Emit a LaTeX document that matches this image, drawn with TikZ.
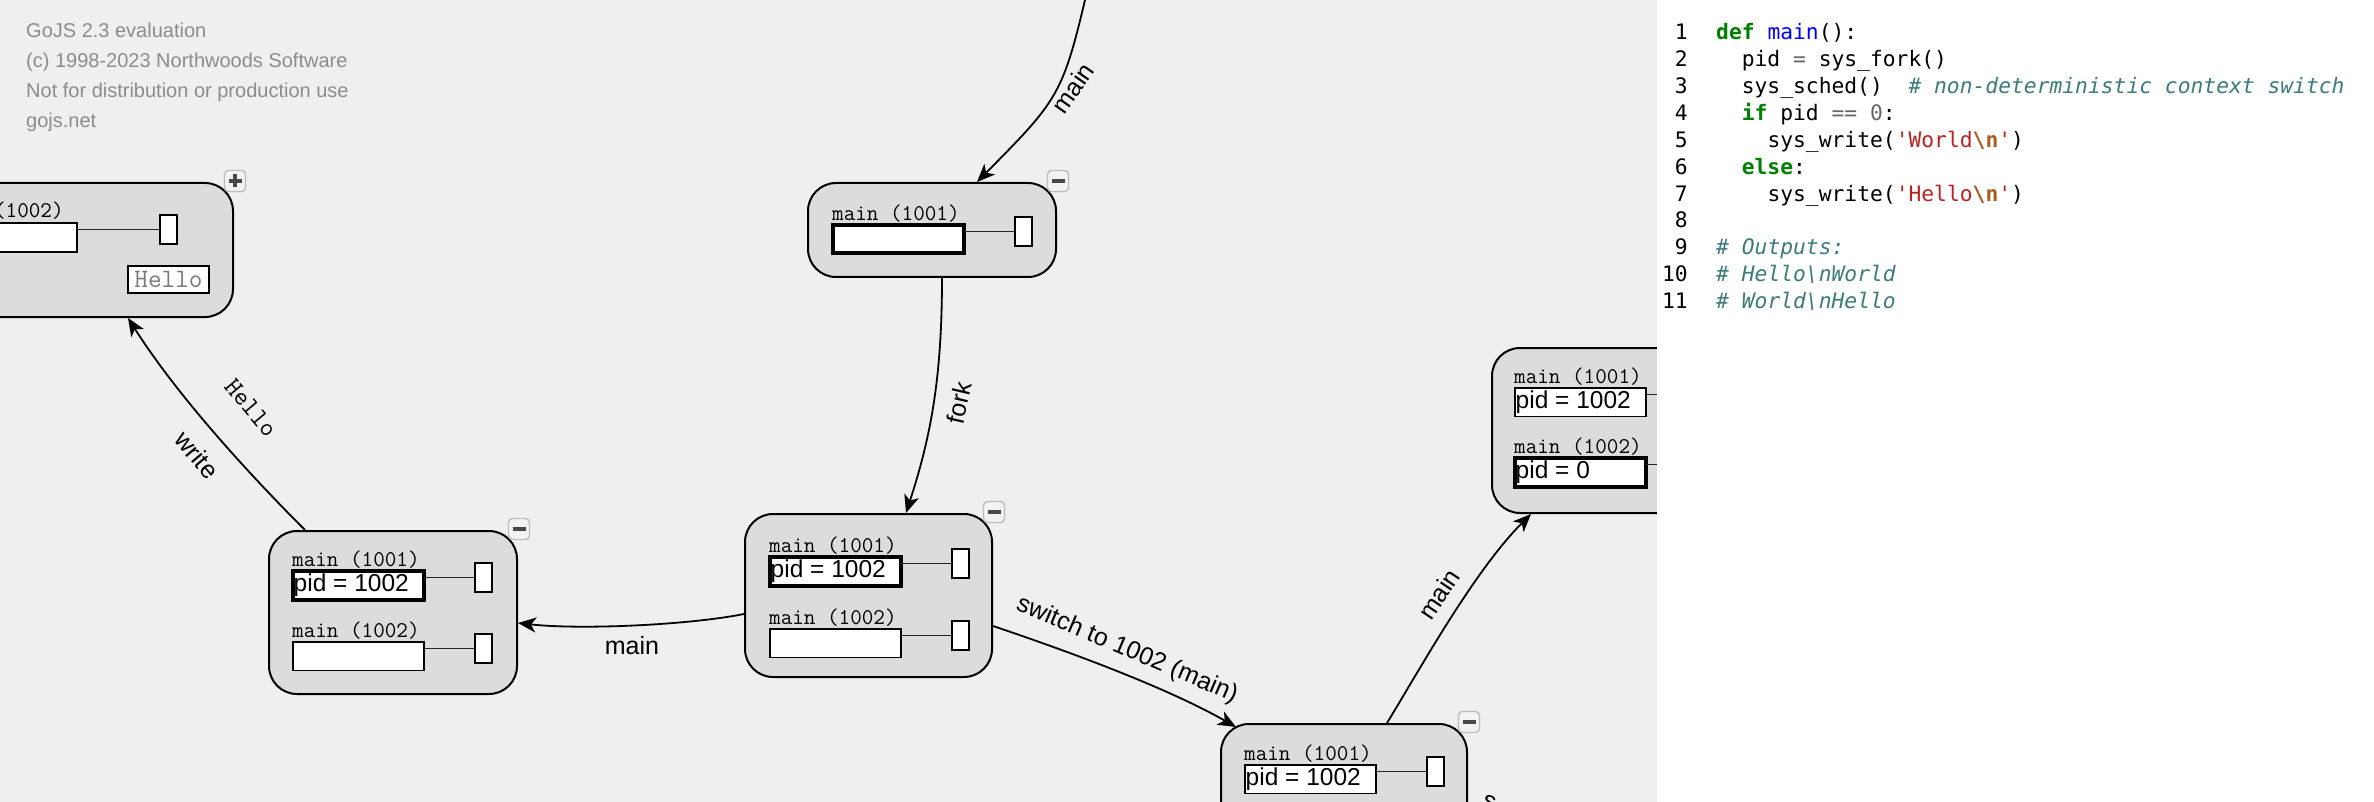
\documentclass[tikz,border=0pt]{standalone}
\usepackage{fontspec}
\newfontfamily\codefont{DejaVu Sans Mono}
\newfontfamily\lsans{Liberation Sans}
\usetikzlibrary{arrows.meta,calc}
\definecolor{diagbg}{HTML}{EFEFEF}
\definecolor{boxfill}{HTML}{DCDCDC}
\definecolor{btnedge}{HTML}{BDBDBD}
\definecolor{btnfill}{HTML}{F3F3F3}
\definecolor{signgray}{HTML}{484848}
\definecolor{wmgray}{HTML}{8C8C8C}
\definecolor{kwgreen}{HTML}{008000}
\definecolor{fnblue}{HTML}{0000FF}
\definecolor{strred}{HTML}{BA2121}
\definecolor{escbrown}{HTML}{AA5D1F}
\definecolor{comteal}{HTML}{3D7B7B}
\definecolor{numgray}{HTML}{666666}
\definecolor{hellogray}{HTML}{7A7A7A}
\newcommand\ckw[1]{\textcolor{kwgreen}{\bfseries #1}}
\newcommand\cfn[1]{\textcolor{fnblue}{#1}}
\newcommand\cstr[1]{\textcolor{strred}{#1}}
\newcommand\cesc[1]{\textcolor{escbrown}{\bfseries #1}}
\newcommand\ccom[1]{\textcolor{comteal}{\itshape #1}}
\newcommand\cnum[1]{\textcolor{numgray}{#1}}
% name, x, y (field top-left), label, content, field style
\newcommand\prow[6]{%
  \node[rowlabel] (#1l) at (#2-1,#3-4.5) {#4};
  \fill[white] (#2,#3) rectangle ++(131,28.5);
  \node[fieldtext] (#1t) at (#2+0.5,#3+20.5) {#5};
  \draw[#6] (#2,#3) rectangle ++(131,28.5);
  \draw[stubline] (#2+131,#3+6.5) -- (#2+182,#3+6.5);
  \draw[stubbox] (#2+182,#3-8) rectangle ++(17,29);
}
\begin{document}
\begin{tikzpicture}[x=1pt,y=-1pt,
  procbox/.style={draw=black, line width=2pt, fill=boxfill, rounded corners=28pt, inner sep=0pt},
  rowlabel/.style={anchor=base west, inner sep=0pt, font=\ttfamily\fontsize{22.5}{26}\selectfont},
  fieldtext/.style={anchor=base west, inner sep=0pt, font=\lsans\fontsize{24.5}{28}\selectfont},
  thickfield/.style={draw=black, line width=4pt},
  thinfield/.style={draw=black, line width=1.5pt},
  stubline/.style={draw=black!85, line width=1.5pt},
  stubbox/.style={draw=black, fill=white, line width=1.5pt},
  btn/.style={draw=btnedge, line width=1.4pt, fill=btnfill, rounded corners=4pt, minimum size=21pt, inner sep=0pt},
  minusbtn/.style={btn, path picture={\draw[line width=3.5pt, signgray] ($(path picture bounding box.center)+(-6.5,0)$) -- ++(13,0);}},
  plusbtn/.style={btn, path picture={\draw[line width=3.5pt, signgray] ($(path picture bounding box.center)+(-6.5,0)$) -- ++(13,0) ($(path picture bounding box.center)+(0,-6.5)$) -- ++(0,13);}},
  edge/.style={draw=black, line width=1.8pt, -{Stealth[length=18pt,width=15pt,inset=5pt]}},
  elabel/.style={inner sep=0pt, font=\lsans\fontsize{25}{30}\selectfont},
  mlabel/.style={inner sep=0pt, font=\ttfamily\fontsize{26}{30}\selectfont},
  wmark/.style={anchor=base west, inner sep=0pt, text=wmgray, font=\lsans\fontsize{20}{24}\selectfont},
  codeline/.style={anchor=base west, inner sep=0pt, font=\codefont\fontsize{21.3}{26}\selectfont},
  lnum/.style={anchor=base east, inner sep=0pt, font=\codefont\fontsize{21.3}{26}\selectfont}
]
\useasboundingbox (0,0) rectangle (2374,802);
\fill[diagbg] (0,0) rectangle (1657,802);
\begin{scope}
\clip (0,0) rectangle (1657,802);
% watermark
\node[wmark] (wm1) at (26,38) {GoJS 2.3 evaluation};
\node[wmark] (wm2) at (26,68) {(c) 1998-2023 Northwoods Software};
\node[wmark] (wm3) at (26,98) {Not for distribution or production use};
\node[wmark] (wm4) at (26,128) {gojs.net};
% boxes
\node[procbox, minimum width=343pt, minimum height=134pt] (TL) at (61.5,250) {};
\node[procbox, minimum width=248pt, minimum height=94pt] (A) at (932,230) {};
\node[procbox, minimum width=247pt, minimum height=163pt] (B) at (868.5,595.5) {};
\node[procbox, minimum width=248pt, minimum height=163pt] (C) at (393,612.5) {};
\node[procbox, minimum width=246pt, minimum height=163pt] (D) at (1344,805.5) {};
\node[procbox, minimum width=248pt, minimum height=165pt] (E) at (1616,430.5) {};
% top-left node content
\node[rowlabel] (TLl) at (-64,218) {main (1002)};
\draw[thinfield, fill=white] (-64,223) rectangle (77,252);
\draw[stubline] (77,229.5) -- (160,229.5);
\draw[stubbox] (160,215) rectangle (177,244);
\node[draw=black, line width=1.5pt, fill=white, minimum width=81pt, minimum height=27pt, inner sep=0pt, text=hellogray, font=\ttfamily\fontsize{26.5}{30}\selectfont] (TLout) at (168.5,279.5) {Hello};
% rows
\prow{A1}{833}{225}{main (1001)}{}{thickfield}
\prow{B1}{770}{557}{main (1001)}{pid = 1002}{thickfield}
\prow{B2}{770}{629}{main (1002)}{}{thinfield}
\prow{C1}{293}{571}{main (1001)}{pid = 1002}{thickfield}
\prow{C2}{293}{642}{main (1002)}{}{thinfield}
\prow{D1}{1245}{765}{main (1001)}{pid = 1002}{thinfield}
\prow{E1}{1515}{388}{main (1001)}{pid = 1002}{thinfield}
\prow{E2}{1515}{458}{main (1002)}{pid = 0}{thickfield}
% buttons
\node[plusbtn] (TLb) at ($(TL.north east)+(1,-1)$) {};
\node[minusbtn] (Ab) at ($(A.north east)+(1,-1)$) {};
\node[minusbtn] (Bb) at ($(B.north east)+(1,-1)$) {};
\node[minusbtn] (Cb) at ($(C.north east)+(1,-1)$) {};
\node[minusbtn] (Db) at ($(D.north east)+(1,-1)$) {};
% edges
\coordinate (topsrc) at (1092,-30);
\draw[edge] (topsrc) .. controls (1063,95) .. ($(A.north)+(45,0)$);
\draw[edge] ($(A.south)+(10,0)$) .. controls +(0,103) and +(24,-74) .. ($(B.north)+(37.5,0)$);
\draw[edge] ($(B.west)+(0,18.5)$) .. controls +(-55,11) and +(63,7) .. ($(C.east)+(0,10.5)$);
\draw[edge] ($(C.north west)+(37,0)$) .. controls +(-44,-44) and +(54,85) .. ($(TL.south west)+(239,0)$);
\draw[edge] ($(B.east)+(0,30.5)$) .. controls +(86,29) and +(-67,-38) .. ($(D.north west)+(16,4)$);
\draw[edge] ($(D.north)+(43,0)$) .. controls +(33,-54) and +(-57,57) .. ($(E.south west)+(40,0)$);
% edge labels
\node[elabel, rotate=55] (l1) at (1073,88) {main};
\node[elabel, rotate=77] (l2) at (959,403) {fork};
\node[elabel] (l3) at (632,646) {main};
\node[elabel, rotate=-50] (l4) at (197,455) {write};
\node[mlabel, rotate=-50] (l5) at (251,408) {Hello};
\node[elabel, rotate=-23] (l6) at (1127,650) {switch to 1002 (main)};
\node[elabel, rotate=56] (l7) at (1439,594) {main};
\node[elabel, anchor=base west, rotate=-20] (l8) at (1481,806) {s};
\end{scope}
% code panel
\fill[white] (1657,0) rectangle (2374,802);
\foreach \i in {1,...,11} {
  \node[lnum] (n\i) at (1688,{40+(\i-1)*26.85}) {\i};
}
\node[codeline] (c1) at (1716,40) {\ckw{def} \cfn{main}():};
\node[codeline] (c2) at (1741.6,66.85) {pid \cnum{=} sys\_fork()};
\node[codeline] (c3) at (1741.6,93.7) {sys\_sched()\ \ \ccom{\# non-deterministic context switch}};
\node[codeline] (c4) at (1741.6,120.55) {\ckw{if} pid \cnum{==} \cnum{0}:};
\node[codeline] (c5) at (1767.3,147.4) {sys\_write(\cstr{'World}\cesc{\textbackslash n}\cstr{'})};
\node[codeline] (c6) at (1741.6,174.25) {\ckw{else}:};
\node[codeline] (c7) at (1767.3,201.1) {sys\_write(\cstr{'Hello}\cesc{\textbackslash n}\cstr{'})};
\node[codeline] (c9) at (1716,254.8) {\ccom{\# Outputs:}};
\node[codeline] (c10) at (1716,281.65) {\ccom{\# Hello\textbackslash nWorld}};
\node[codeline] (c11) at (1716,308.5) {\ccom{\# World\textbackslash nHello}};
\end{tikzpicture}
\end{document}
